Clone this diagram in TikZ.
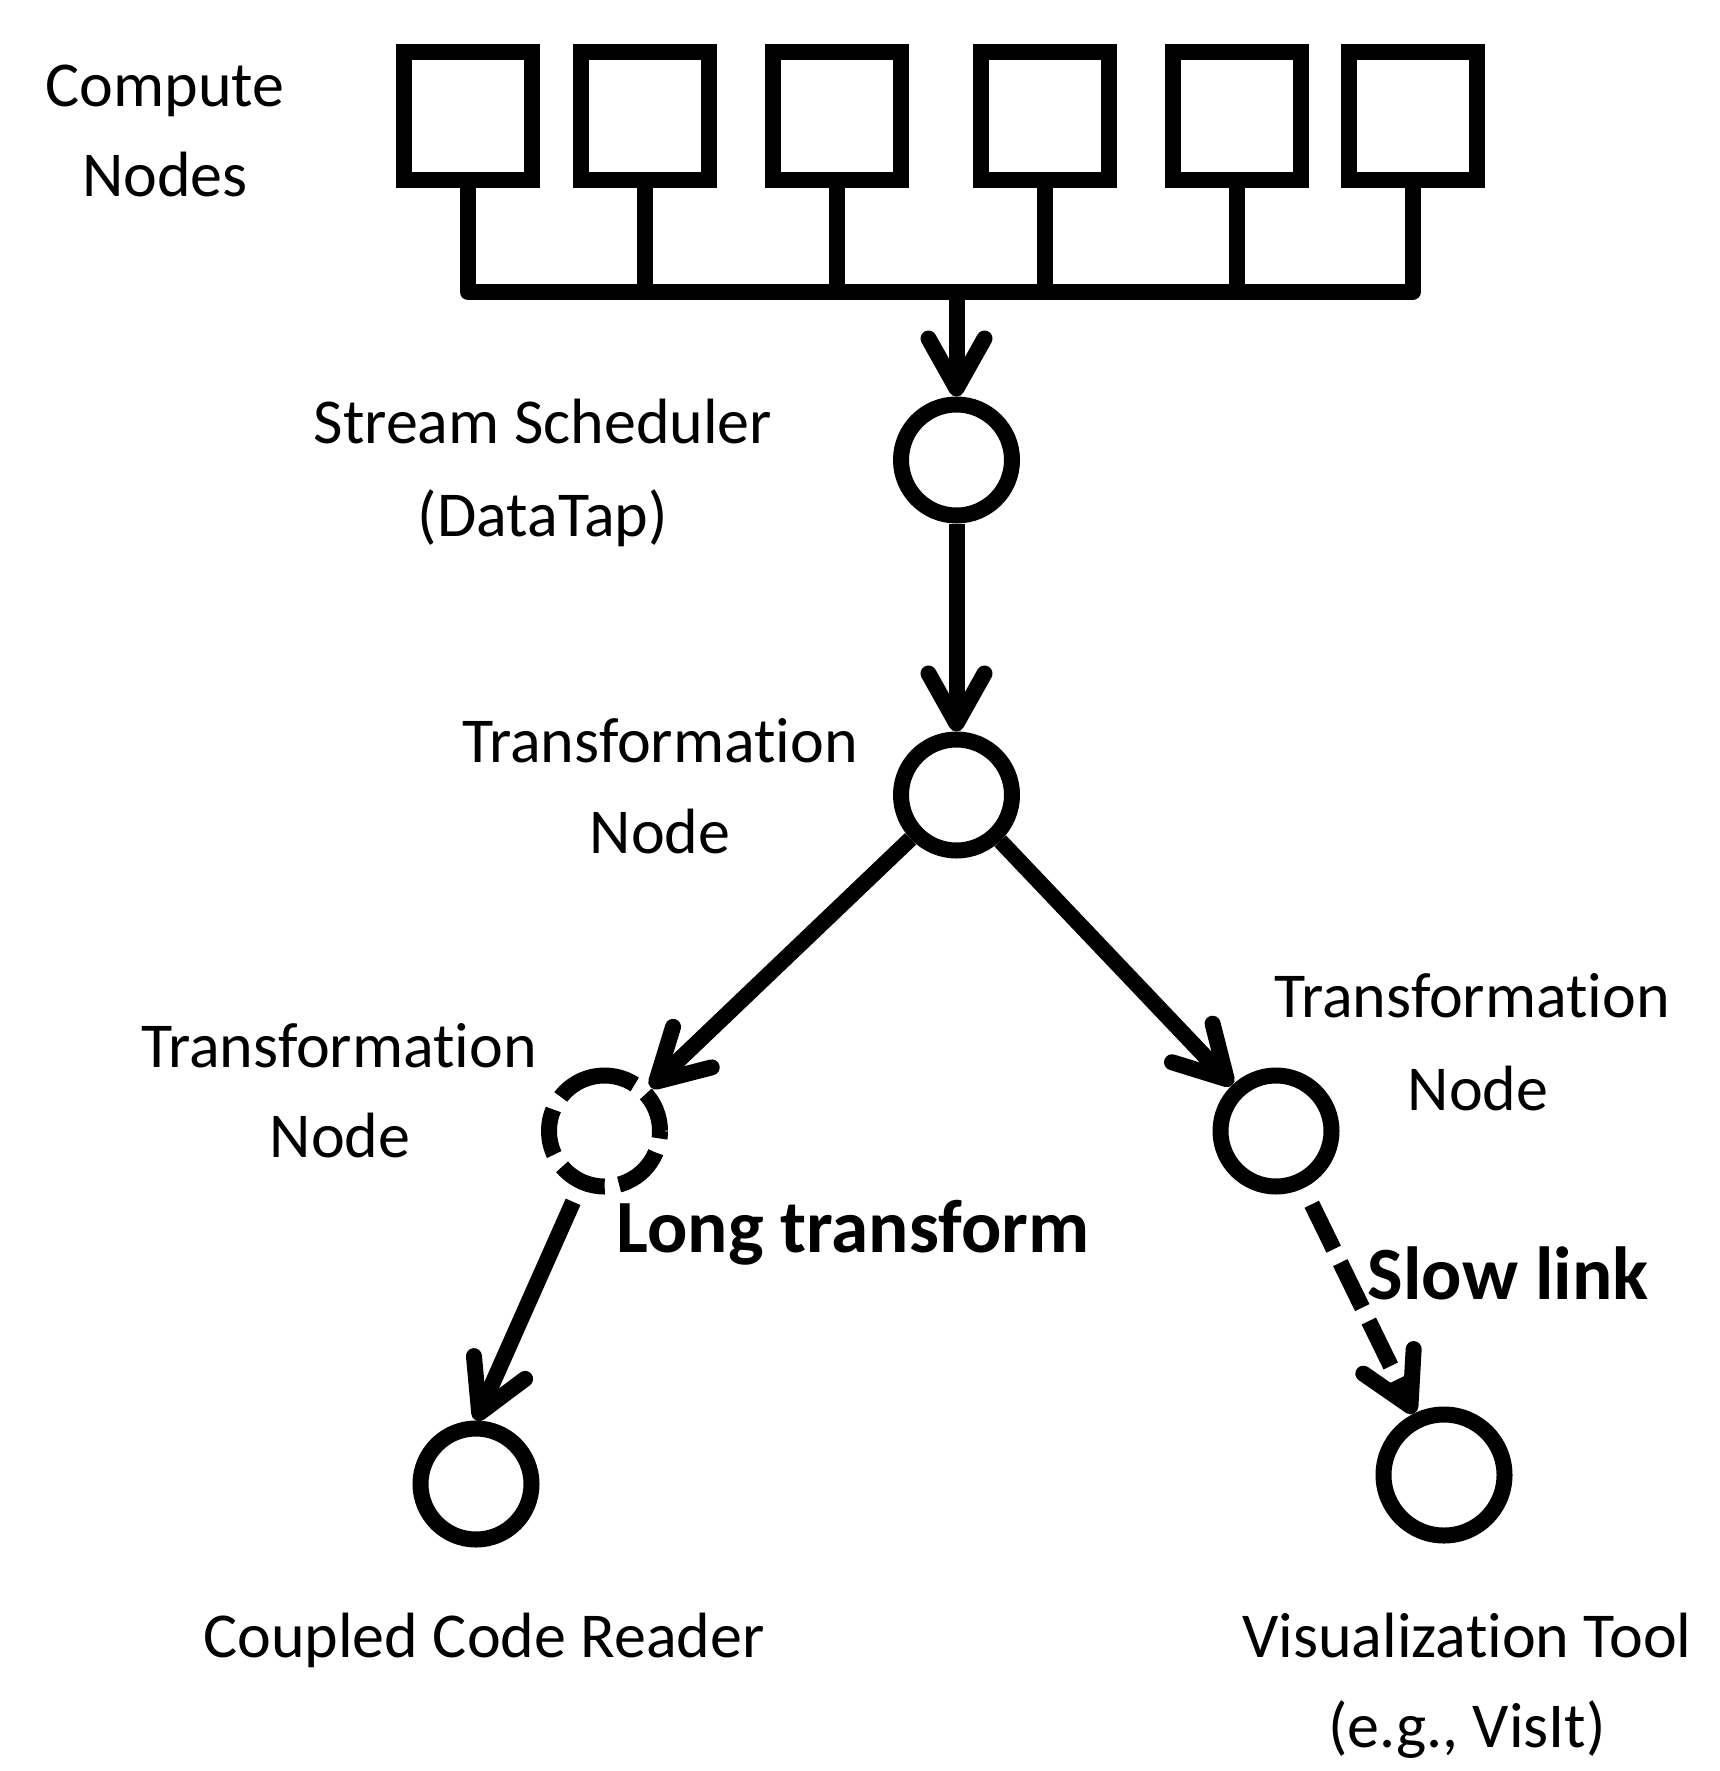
\documentclass[tikz,border=0pt]{standalone}
\usepackage{fontspec}
\setmainfont{Carlito}[Ligatures={NoCommon}]
\usetikzlibrary{arrows.meta}
\begin{document}
\begin{tikzpicture}[x=0.5pt,y=-0.5pt,
  wire/.style={line width=8pt},
  cnode/.style={circle, draw, line width=8pt, minimum size=55.5pt, inner sep=0pt},
  cbox/.style={rectangle, draw, line width=8pt, minimum size=64pt, inner sep=0pt},
  flow/.style={line width=8pt, -{Straight Barb[length=25pt, width=28pt, round]}},
  lbl/.style={inner sep=0pt, anchor=base, font=\fontsize{32}{38}\selectfont},
  blbl/.style={inner sep=0pt, anchor=base, font=\bfseries\fontsize{37.6}{45}\selectfont}]
\useasboundingbox (0,0) rectangle (1719,1771);

% compute nodes
\node[cbox] (b1) at (468,116) {};
\node[cbox] (b2) at (644.5,116) {};
\node[cbox] (b3) at (837,116) {};
\node[cbox] (b4) at (1044.5,116) {};
\node[cbox] (b5) at (1237,116) {};
\node[cbox] (b6) at (1412.5,116) {};
\coordinate (bl) at (468,292);
\coordinate (br) at (1412.5,292);
\coordinate (bm) at (956.5,292);
\draw[wire, line join=round] (b1.south) -- (bl) -- (br) -- (b6.south);
\foreach \i in {2,3,4,5} { \draw[wire] (b\i.south) -- (b\i.south |- bl); }

% circles
\node[cnode] (c1) at (956.5,460) {};
\node[cnode] (c2) at (956.5,795) {};
\node[cnode, dash pattern=on 20.3pt off 7.3pt on 41.2pt off 7.3pt on 23.2pt off 7.3pt on 24.2pt off 7.3pt on 25.2pt off 7.3pt on 3.9pt] (c3) at (604.5,1131) {};
\node[cnode] (c4) at (1276,1131) {};
\node[cnode] (c5) at (476,1484) {};
\node[cnode, minimum size=60.5pt] (c6) at (1444,1475) {};

% connectors
\draw[flow] (bm) -- (c1);
\draw[flow] (c1) -- (c2);
\draw[flow] (c2) -- (c3);
\draw[flow] (c2) -- (c4);
\draw[flow, shorten <=7pt] (c3) -- (c5.north);
\draw[flow, dash pattern=on 25pt off 7.5pt, shorten <=9pt] (c4) -- (c6);

% labels
\node[lbl] (compute1) at (165,107) {Compute};
\node[lbl] (compute2) at (165,197) {Nodes};
\node[lbl] (ss1) at (543,443) {Stream Scheduler};
\node[lbl] (ss2) at (543,536) {(DataTap)};
\node[lbl] (tm1) at (660,762) {Transformation};
\node[lbl] (tm2) at (660,853) {Node};
\node[lbl] (tl1) at (339,1067) {Transformation};
\node[lbl] (tl2) at (340,1157) {Node};
\node[lbl] (tr1) at (1472,1017) {Transformation};
\node[lbl] (tr2) at (1478,1110) {Node};
\node[blbl] (long) at (853,1252) {Long transform};
\node[blbl] (slow) at (1508,1299) {Slow link};
\node[lbl] (ccr) at (484,1657) {Coupled Code Reader};
\node[lbl] (vt1) at (1467,1657) {Visualization Tool};
\node[lbl] (vt2) at (1467,1747) {(e.g., VisIt)};
\end{tikzpicture}
\end{document}
